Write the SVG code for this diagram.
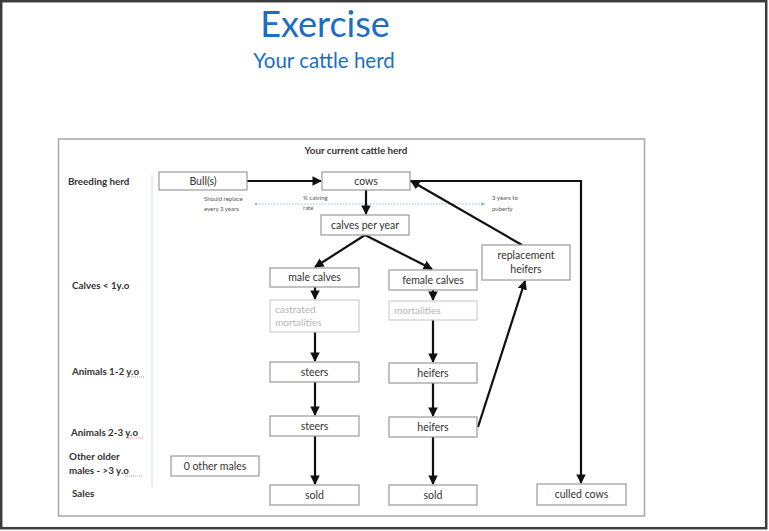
<svg xmlns="http://www.w3.org/2000/svg" width="769" height="531" viewBox="0 0 769 531">
  <defs>
    <marker id="head" viewBox="0 0 10 10" refX="9" refY="5" markerWidth="4.3" markerHeight="4.3" orient="auto" markerUnits="strokeWidth">
      <path d="M0,0 L10,5 L0,10 z" fill="#111"/>
    </marker>
    <marker id="bluehead" viewBox="0 0 10 10" refX="9" refY="5" markerWidth="5" markerHeight="5" orient="auto">
      <path d="M0,1 L10,5 L0,9 z" fill="#8fb8e0"/>
    </marker>
    <style>
      .box { fill: #fff; stroke: #9a9a9a; stroke-width: 1.2; }
      .faint { fill: #fff; stroke: #cfcfcf; stroke-width: 1.2; }
      .bt { font-family: Lato, "Open Sans", "Liberation Sans", sans-serif; font-size: 10.5px; fill: #333; text-anchor: middle; }
      .gt { font-family: Lato, "Open Sans", "Liberation Sans", sans-serif; font-size: 10px; fill: #b5b5b5; }
      .row { font-family: Lato, "Open Sans", "Liberation Sans", sans-serif; font-size: 9.8px; font-weight: bold; fill: #333; }
      .note { font-family: Lato, "Open Sans", "Liberation Sans", sans-serif; font-size: 6px; fill: #555; }
      .arrow { fill: none; stroke: #111; stroke-width: 2.2; marker-end: url(#head); }
      .err { stroke: #d33; stroke-width: 0.6; stroke-dasharray: 1 1; }
    </style>
  </defs>

  <rect x="0" y="0" width="769" height="531" fill="#fff"/>
  <!-- outer frame -->
  <rect x="1.2" y="1.2" width="765" height="527" fill="none" stroke="#3c3c3c" stroke-width="2.5"/>

  <!-- titles -->
  <text x="325" y="37" font-family="Lato, 'Open Sans', 'Liberation Sans', sans-serif" font-size="36" fill="#1a6fc4" text-anchor="middle">Exercise</text>
  <text x="324" y="68" font-family="Lato, 'Open Sans', 'Liberation Sans', sans-serif" font-size="20.5" fill="#1a6fc4" text-anchor="middle">Your cattle herd</text>

  <!-- inner frame -->
  <rect x="58.5" y="139" width="586" height="377" fill="#fff" stroke="#a8a8a8" stroke-width="1.5"/>
  <text x="356" y="154" class="row" text-anchor="middle">Your current cattle herd</text>

  <!-- row labels -->
  <g id="row-labels">
    <text x="68" y="185" class="row">Breeding herd</text>
    <text x="72" y="289" class="row">Calves &lt; 1y.o</text>
    <text x="72" y="375" class="row">Animals 1-2 y.o</text>
    <line x1="127" y1="377" x2="144" y2="377" class="err"/>
    <text x="71" y="436" class="row">Animals 2-3 y.o</text>
    <line x1="126" y1="438" x2="143" y2="438" class="err"/>
    <text x="69" y="460" class="row">Other older</text>
    <text x="69" y="474" class="row">males - &gt;3 y.o</text>
    <line x1="125" y1="476" x2="142" y2="476" class="err"/>
    <text x="72" y="497" class="row">Sales</text>
  </g>
  <line x1="152" y1="175" x2="152" y2="487" stroke="#c9d8ea" stroke-width="1"/>

  <!-- notes -->
  <g id="notes">
    <text x="204" y="201" class="note">Should replace</text>
    <text x="204" y="211" class="note">every 3 years</text>
    <text x="303" y="200" class="note">% calving</text>
    <text x="303" y="210" class="note">rate</text>
    <text x="492" y="200" class="note">3 years to</text>
    <text x="492" y="211" class="note">puberty</text>
    <line x1="256" y1="204" x2="485" y2="204" stroke="#8fb8e0" stroke-width="0.9" stroke-dasharray="1.5 1.5" marker-end="url(#bluehead)"/>
    <circle cx="256" cy="204" r="1.3" fill="#8fb8e0"/>
  </g>

  <!-- connectors -->
  <g id="connectors">
    <path class="arrow" d="M247,181 L321,181"/>
    <path class="arrow" d="M366,190 L366,214"/>
    <path class="arrow" d="M365,235 L315,267"/>
    <path class="arrow" d="M365,235 L432,269"/>
    <path class="arrow" d="M315,287 L315,299"/>
    <path class="arrow" d="M315,332 L315,361"/>
    <path class="arrow" d="M315,382 L315,415"/>
    <path class="arrow" d="M315,436 L315,484"/>
    <path class="arrow" d="M433,290 L433,300"/>
    <path class="arrow" d="M433,320 L433,362"/>
    <path class="arrow" d="M433,383 L433,416"/>
    <path class="arrow" d="M433,437 L433,484"/>
    <path class="arrow" d="M478,427 L525,281"/>
    <path class="arrow" d="M522,245 L411,181"/>
    <path class="arrow" d="M410,181 L581,181 L581,483"/>
  </g>

  <!-- nodes -->
  <g id="bulls"><rect class="box" x="159" y="172" width="88" height="18"/><text class="bt" x="203" y="185">Bull(s)</text></g>
  <g id="cows"><rect class="box" x="322" y="172" width="88" height="18"/><text class="bt" x="366" y="185">cows</text></g>
  <g id="calves-per-year"><rect class="box" x="321" y="215" width="88" height="20"/><text class="bt" x="365" y="229">calves per year</text></g>
  <g id="male-calves"><rect class="box" x="270" y="268" width="89" height="19"/><text class="bt" x="314.5" y="281">male calves</text></g>
  <g id="castrated"><rect class="faint" x="270" y="300" width="89" height="32"/><text class="gt" x="275" y="313">castrated</text><text class="gt" x="275" y="326">mortalities</text></g>
  <g id="steers-1"><rect class="box" x="270" y="362" width="89" height="20"/><text class="bt" x="314.5" y="376">steers</text></g>
  <g id="steers-2"><rect class="box" x="270" y="416" width="89" height="20"/><text class="bt" x="314.5" y="430">steers</text></g>
  <g id="sold-males"><rect class="box" x="270" y="485" width="89" height="20"/><text class="bt" x="314.5" y="499">sold</text></g>
  <g id="female-calves"><rect class="box" x="389" y="270" width="88" height="20"/><text class="bt" x="433" y="284">female calves</text></g>
  <g id="mortalities"><rect class="faint" x="389" y="301" width="88" height="19"/><text class="gt" x="394" y="314">mortalities</text></g>
  <g id="heifers-1"><rect class="box" x="389" y="363" width="88" height="20"/><text class="bt" x="433" y="377">heifers</text></g>
  <g id="heifers-2"><rect class="box" x="389" y="417" width="88" height="20"/><text class="bt" x="433" y="431">heifers</text></g>
  <g id="sold-females"><rect class="box" x="389" y="485" width="88" height="20"/><text class="bt" x="433" y="499">sold</text></g>
  <g id="replacement-heifers"><rect class="box" x="482" y="245" width="88" height="35"/><text class="bt" x="526" y="259">replacement</text><text class="bt" x="526" y="273">heifers</text></g>
  <g id="culled-cows"><rect class="box" x="537" y="484" width="89" height="21"/><text class="bt" x="581.5" y="498">culled cows</text></g>
  <g id="other-males"><rect class="box" x="171" y="456" width="88" height="20"/><text class="bt" x="215" y="470">0 other males</text></g>
</svg>
